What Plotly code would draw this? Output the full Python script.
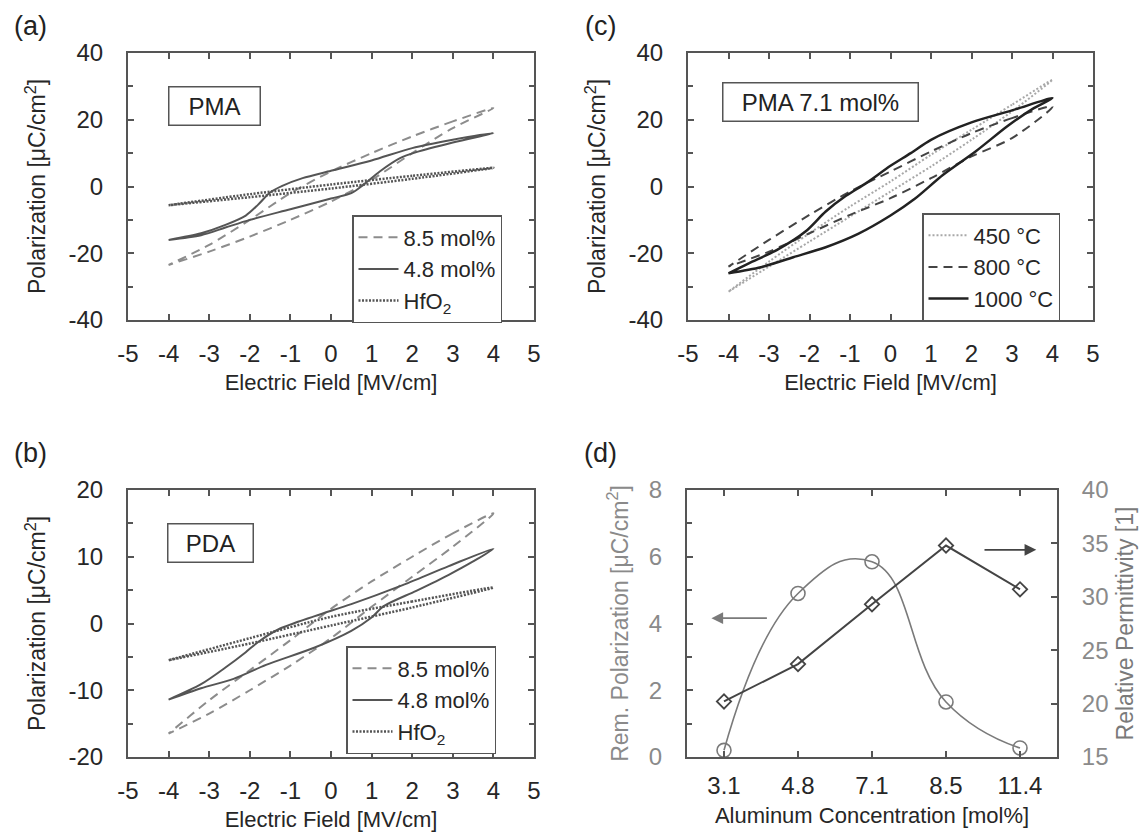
import plotly.graph_objects as go

# ---------------- data ----------------
# (a) PMA
a85_dn_E = [4, 3, 2, 1, 0, -1, -2, -3, -4]
a85_dn_P = [23.5, 19.5, 15, 10, 4.5, -2, -10, -17.5, -23.5]
a85_up_E = [-4, -3, -2, -1, 0, 1, 2, 3, 4]
a85_up_P = [-23.5, -19.5, -15, -10, -4.5, 2, 10, 17.5, 23.5]

a48_dn_E = [4, 3, 2, 1, 0, -0.7, -1.2, -1.5, -1.8, -2.1, -2.6, -3.2, -4]
a48_dn_P = [16, 14, 11.5, 7.8, 4.7, 2.5, 0.2, -1.8, -5.5, -8.7, -11.5, -14, -16]
a48_up_E = [-4, -3.2, -2.6, -2, -1, 0, 0.5, 0.8, 1.2, 1.7, 2.1, 3, 4]
a48_up_P = [-16, -14.6, -12.3, -10, -6.8, -3.6, -2, 0.5, 4.5, 8.5, 10.3, 13.2, 16]

aHf_dn_E = [4, 2, 0, -2, -4]
aHf_dn_P = [5.6, 3.2, 0.6, -2.3, -5.6]
aHf_up_E = [-4, -2, 0, 2, 4]
aHf_up_P = [-5.6, -3.2, -0.6, 2.3, 5.6]

# (b) PDA
b85_dn_E = [4, 3, 2, 1, 0, -1, -2, -3, -4]
b85_dn_P = [16.5, 13.5, 10, 6.3, 2.2, -2.5, -7, -11.5, -16.5]
b85_up_E = [-4, -3, -2, -1, 0, 1, 2, 3, 4]
b85_up_P = [-16.5, -13.5, -10, -6.3, -2.2, 2.5, 7, 11.5, 16.5]

b48_dn_E = [4, 2.9, 1.7, 0.5, -0.4, -1.3, -1.8, -2.1, -2.6, -3.2, -4]
b48_dn_P = [11.2, 8.6, 5.6, 2.9, 1.1, -0.9, -2.8, -4.3, -6.6, -9.1, -11.4]
b48_up_E = [-4, -3.2, -2.4, -1.6, -0.4, 0.5, 1.0, 1.3, 2.1, 2.9, 3.5, 4]
b48_up_P = [-11.4, -9.7, -8.3, -6.2, -3.6, -1.1, 0.9, 2.6, 4.9, 7.3, 9.3, 11.2]

bHf_dn_E = [4, 2, 0, -2, -4]
bHf_dn_P = [5.4, 3.3, 1.0, -2.2, -5.5]
bHf_up_E = [-4, -2, 0, 2, 4]
bHf_up_P = [-5.5, -3.0, -0.3, 2.4, 5.4]

# (c) PMA 7.1 mol%
c450_dn_E = [4, 3, 2, 1, 0, -1, -2, -3, -4]
c450_dn_P = [32, 24.5, 17, 9.5, 1.5, -6, -14, -22.5, -31.5]
c450_up_E = [-4, -3, -2, -1, 0, 1, 2, 3, 4]
c450_up_P = [-31.5, -24, -16.5, -9, -1.5, 6, 14, 22.5, 32]

c800_dn_E = [4, 3, 2, 1, 0, -1, -2, -3, -4]
c800_dn_P = [24, 20.5, 16, 10.5, 4.5, -1.5, -8.5, -16, -24]
c800_up_E = [-4, -3, -2, -1, 0, 1, 2, 3, 4]
c800_up_P = [-24, -19.5, -14, -8.5, -3.5, 2.5, 9, 14.5, 24]

c1000_dn_E = [4, 3, 2, 1, 0.5, 0, -0.6, -1.1, -1.6, -2.1, -2.8, -3.5, -4]
c1000_dn_P = [26.5, 22.8, 19.2, 14, 10, 6.2, 1, -2.8, -7.5, -13.5, -19, -23, -26]
c1000_up_E = [-4, -3.2, -2.4, -1.6, -0.8, 0, 0.6, 1.3, 2.1, 2.9, 3.5, 4]
c1000_up_P = [-26, -24.2, -21.2, -18.2, -14.2, -8.7, -3.7, 3.5, 10.5, 18.2, 23.2, 26.5]

# (d)
conc_labels = ["3.1", "4.8", "7.1", "8.5", "11.4"]
rem_pol = [0.2, 4.9, 5.85, 1.65, 0.27]
permittivity = [20.2, 23.7, 29.3, 34.8, 30.7]

# tick labels (hyphen minus as in the original)
field_ticks = [-5, -4, -3, -2, -1, 0, 1, 2, 3, 4, 5]
field_tick_text = ["-5", "-4", "-3", "-2", "-1", "0", "1", "2", "3", "4", "5"]
pol40_ticks = [-40, -20, 0, 20, 40]
pol40_tick_text = ["-40", "-20", "0", "20", "40"]
pol20_ticks = [-20, -10, 0, 10, 20]
pol20_tick_text = ["-20", "-10", "0", "10", "20"]

# ---------------- figure ----------------
W, H = 1148, 836
FONT = "Liberation Sans, Arial, sans-serif"
TXT = "#262626"
AX = "#555555"


def px_x(p):
    return p / W


def px_y(p):
    return 1 - p / H


fig = go.Figure()


def add_loop(e1, p1, e2, p2, name, color, width, dash, xa, ya, legend):
    fig.add_trace(go.Scatter(
        x=e1 + e2, y=p1 + p2, mode="lines", name=name,
        line=dict(color=color, width=width, dash=dash, shape="spline", smoothing=0.8),
        xaxis=xa, yaxis=ya, legend=legend, showlegend=True))


DASH = "9px,6px"
# (a)
add_loop(a85_dn_E, a85_dn_P, a85_up_E, a85_up_P, "8.5 mol%", "#8c8c8c", 2, DASH, "x", "y", "legend")
add_loop(a48_dn_E, a48_dn_P, a48_up_E, a48_up_P, "4.8 mol%", "#555555", 2, "solid", "x", "y", "legend")
add_loop(aHf_dn_E, aHf_dn_P, aHf_up_E, aHf_up_P, "HfO<sub>2</sub>", "#555555", 2.5, "2px,1.5px", "x", "y", "legend")
# (b)
add_loop(b85_dn_E, b85_dn_P, b85_up_E, b85_up_P, "8.5 mol%", "#8c8c8c", 2, DASH, "x2", "y2", "legend2")
add_loop(b48_dn_E, b48_dn_P, b48_up_E, b48_up_P, "4.8 mol%", "#555555", 2, "solid", "x2", "y2", "legend2")
add_loop(bHf_dn_E, bHf_dn_P, bHf_up_E, bHf_up_P, "HfO<sub>2</sub>", "#555555", 2.5, "2px,1.5px", "x2", "y2", "legend2")
# (c)
add_loop(c450_dn_E, c450_dn_P, c450_up_E, c450_up_P, "450 °C", "#a8a8a8", 2, "2px,2px", "x3", "y3", "legend3")
add_loop(c800_dn_E, c800_dn_P, c800_up_E, c800_up_P, "800 °C", "#444444", 2, DASH, "x3", "y3", "legend3")
add_loop(c1000_dn_E, c1000_dn_P, c1000_up_E, c1000_up_P, "1000 °C", "#222222", 2.5, "solid", "x3", "y3", "legend3")

# (d)
fig.add_trace(go.Scatter(
    x=conc_labels, y=rem_pol, mode="lines+markers", showlegend=False,
    line=dict(color="#7a7a7a", width=1.6, shape="spline", smoothing=1.3),
    marker=dict(symbol="circle-open", size=14, color="#7a7a7a", line=dict(width=1.6)),
    xaxis="x4", yaxis="y4"))
fig.add_trace(go.Scatter(
    x=conc_labels, y=permittivity, mode="lines+markers", showlegend=False,
    line=dict(color="#444444", width=2),
    marker=dict(symbol="diamond-open", size=11, color="#444444", line=dict(width=1.8)),
    xaxis="x4", yaxis="y5"))

# ---------------- axes ----------------
dom_ax = [px_x(120), px_x(526)]
dom_cx = [px_x(680), px_x(1085)]
dom_dx = [px_x(679), px_x(1049)]
dom_top = [px_y(312), px_y(45)]
dom_bot = [px_y(749), px_y(482)]

tickfont = dict(family=FONT, size=24, color=TXT)
xtitlefont = dict(family=FONT, size=22, color=TXT)
ytitlefont = dict(family=FONT, size=23, color=TXT)
GRAY = "#8a8a8a"


def field_xaxis(domain, anchor):
    return dict(domain=domain, anchor=anchor, range=[-5, 5],
                tickmode="array", tickvals=field_ticks, ticktext=field_tick_text,
                showline=True, linecolor=AX, linewidth=2, mirror="ticks",
                ticks="inside", ticklen=6, tickwidth=1.5, tickcolor=AX,
                showgrid=False, zeroline=False, tickfont=tickfont,
                ticklabelstandoff=11,
                title=dict(text="Electric Field [MV/cm]", font=xtitlefont, standoff=9))


def pol_yaxis(domain, anchor, rng, vals, texts, minor):
    return dict(domain=domain, anchor=anchor, range=rng,
                tickmode="array", tickvals=vals, ticktext=texts,
                showline=True, linecolor=AX, linewidth=2, mirror="ticks",
                ticks="inside", ticklen=6, tickwidth=1.5, tickcolor=AX,
                minor=dict(dtick=minor, tick0=rng[0], ticks="inside", ticklen=5,
                           tickcolor=AX, tickwidth=1.5),
                showgrid=False, zeroline=False, tickfont=tickfont,
                ticklabelstandoff=18,
                title=dict(text="Polarization [μC/cm<sup>2</sup>]", font=ytitlefont, standoff=16))


fig.update_layout(
    xaxis=field_xaxis(dom_ax, "y"),
    yaxis=pol_yaxis(dom_top, "x", [-40, 40], pol40_ticks, pol40_tick_text, 10),
    xaxis2=field_xaxis(dom_ax, "y2"),
    yaxis2=pol_yaxis(dom_bot, "x2", [-20, 20], pol20_ticks, pol20_tick_text, 5),
    xaxis3=field_xaxis(dom_cx, "y3"),
    yaxis3=pol_yaxis(dom_top, "x3", [-40, 40], pol40_ticks, pol40_tick_text, 10),
    xaxis4=dict(domain=dom_dx, anchor="y4", type="category", range=[-0.5, 4.5],
                showline=True, linecolor=AX, linewidth=2, mirror="ticks",
                ticks="inside", ticklen=6, tickwidth=1.5, tickcolor=AX,
                showgrid=False, zeroline=False, tickfont=tickfont, ticklabelstandoff=6,
                title=dict(text="Aluminum Concentration [mol%]", font=xtitlefont, standoff=10)),
    yaxis4=dict(domain=dom_bot, anchor="x4", range=[0, 8], dtick=2, tick0=0,
                showline=True, linecolor=AX, linewidth=2,
                ticks="inside", ticklen=6, tickwidth=1.5, tickcolor=AX,
                minor=dict(dtick=1, ticks="inside", ticklen=5, tickcolor=AX, tickwidth=1.5),
                showgrid=False, zeroline=False,
                tickfont=dict(family=FONT, size=24, color=GRAY), ticklabelstandoff=18,
                title=dict(text="Rem. Polarization [μC/cm<sup>2</sup>]",
                           font=dict(family=FONT, size=23, color=GRAY), standoff=14)),
    yaxis5=dict(domain=dom_bot, anchor="x4", overlaying="y4", side="right",
                range=[15, 40], dtick=5, tick0=15,
                showline=True, linecolor=AX, linewidth=2,
                ticks="inside", ticklen=6, tickwidth=1.5, tickcolor=AX,
                showgrid=False, zeroline=False,
                tickfont=dict(family=FONT, size=24, color=GRAY), ticklabelstandoff=18,
                title=dict(text="Relative Permittivity [1]",
                           font=dict(family=FONT, size=23, color="#7a7a7a"), standoff=9)),
)

legend_common = dict(bgcolor="white", bordercolor=AX, borderwidth=1.5,
                     font=dict(family=FONT, size=22, color=TXT),
                     xanchor="left", yanchor="top", tracegroupgap=0, itemwidth=40)
fig.update_layout(
    legend=dict(x=px_x(344), y=px_y(207), **legend_common),
    legend2=dict(x=px_x(338), y=px_y(638), **legend_common),
    legend3=dict(x=px_x(914), y=px_y(205), **legend_common),
)

annotations = []
# panel letters
for txt, cx, cy in [("(a)", 22, 18), ("(c)", 592, 18), ("(b)", 22, 445), ("(d)", 592, 445)]:
    annotations.append(dict(text=txt, x=px_x(cx), y=px_y(cy), xref="paper", yref="paper",
                            showarrow=False, xanchor="center", yanchor="middle",
                            font=dict(family=FONT, size=27, color="#222222")))
# boxed labels
for txt, cx, cy, w in [("PMA", 206, 98, 90), ("PDA", 202, 535, 84), ("PMA 7.1 mol%", 812, 94, 194)]:
    annotations.append(dict(text=txt, x=px_x(cx), y=px_y(cy), xref="paper", yref="paper",
                            showarrow=False, xanchor="center", yanchor="middle",
                            width=w, height=37, bordercolor=AX, borderwidth=1.5, borderpad=0,
                            bgcolor="white",
                            font=dict(family=FONT, size=24, color="#222222")))
# arrows in (d)
annotations.append(dict(x=-0.17, y=4.16, ax=0.6, ay=4.16, xref="x4", yref="y4",
                        axref="x4", ayref="y4", showarrow=True, arrowhead=2, arrowsize=1.3,
                        arrowwidth=1.8, arrowcolor="#7a7a7a", text=""))
annotations.append(dict(x=4.22, y=34.4, ax=3.5, ay=34.4, xref="x4", yref="y5",
                        axref="x4", ayref="y5", showarrow=True, arrowhead=2, arrowsize=1.3,
                        arrowwidth=1.8, arrowcolor="#444444", text=""))

fig.update_layout(
    annotations=annotations,
    width=W, height=H, margin=dict(l=0, r=0, t=0, b=0, autoexpand=False),
    paper_bgcolor="white", plot_bgcolor="white",
    font=dict(family=FONT, color=TXT),
)

fig.write_html("out.html")
